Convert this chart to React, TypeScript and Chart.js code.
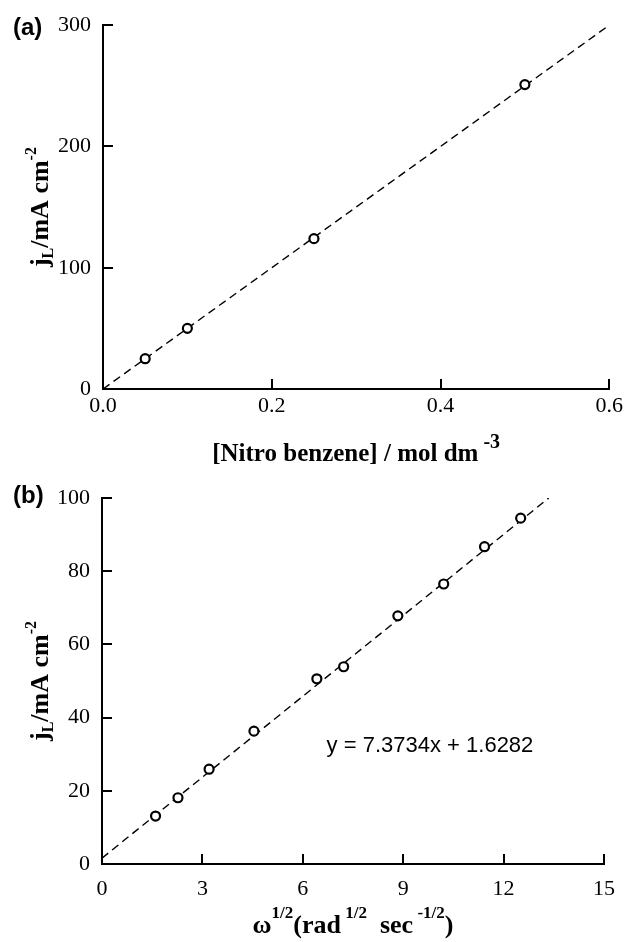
import React, { useEffect, useRef } from 'react';
import { Chart, registerables } from 'chart.js';

Chart.register(...registerables);

// ---------- data ----------
const concA = [0.05, 0.1, 0.25, 0.5];
const currentA = [25, 50, 124, 251];
const fitAX = [0, 0.6];
const fitAY = [0, 300];

const omegaB = [1.6, 2.27, 3.2, 4.54, 6.42, 7.22, 8.84, 10.21, 11.43, 12.51];
const currentB = [13.1, 18.1, 25.9, 36.3, 50.6, 53.9, 67.8, 76.5, 86.7, 94.5];
const fitBX = [0, 13.35];
const fitBY = [1.6, 100];

const equationB = 'y = 7.3734x + 1.6282';
const equationPos = { x: 9.8, y: 32.2 };

const panelLabels = ['(a)', '(b)'];

const SERIF = '"Liberation Serif", "Times New Roman", serif';
const SANS = '"Liberation Sans", Arial, sans-serif';

type Seg = { t: string; size: number; dy: number };

function drawRich(ctx: CanvasRenderingContext2D, segs: Seg[], x: number, y: number) {
  const widths: number[] = [];
  let total = 0;
  for (const s of segs) {
    ctx.font = `bold ${s.size}px ${SERIF}`;
    const w = ctx.measureText(s.t).width;
    widths.push(w);
    total += w;
  }
  let cx = x - total / 2;
  ctx.textAlign = 'left';
  ctx.textBaseline = 'alphabetic';
  segs.forEach((s, i) => {
    ctx.font = `bold ${s.size}px ${SERIF}`;
    ctx.fillText(s.t, cx, y + s.dy);
    cx += widths[i];
  });
}

const yTitleSegs: Seg[] = [
  { t: 'j', size: 26, dy: 0 },
  { t: 'L', size: 16, dy: 5 },
  { t: '/mA cm', size: 26, dy: 0 },
  { t: '-2', size: 16, dy: -12 },
];

const xTitleA: Seg[] = [
  { t: '[Nitro benzene] / mol dm', size: 25, dy: 0 },
  { t: ' -3', size: 20, dy: -13 },
];

const xTitleB: Seg[] = [
  { t: '\u03c9', size: 26, dy: 0 },
  { t: '1/2', size: 17, dy: -15 },
  { t: '(rad', size: 26, dy: 0 },
  { t: ' 1/2', size: 17, dy: -15 },
  { t: '  sec', size: 26, dy: 0 },
  { t: ' -1/2', size: 17, dy: -15 },
  { t: ')', size: 26, dy: 0 },
];

type PanelSpec = {
  height: number;
  padTop: number;
  padRight: number;
  yWidth: number;
  xHeight: number;
  xMin: number; xMax: number; xStep: number; xDigits: number;
  yMin: number; yMax: number; yStep: number;
  xPad: number;
  pts: { x: number; y: number }[];
  fit: { x: number; y: number }[];
  label: string;
  labelBaseline: number;
  xTitle: Seg[];
  xTitleBaseline: number;
  equation?: string;
};

function makeConfig(p: PanelSpec): any {
  const annot = {
    id: 'annot',
    afterDraw(chart: any) {
      const { ctx, chartArea } = chart;
      const xs = chart.scales.x;
      const ys = chart.scales.y;
      ctx.save();
      ctx.strokeStyle = '#000';
      ctx.fillStyle = '#000';
      ctx.lineWidth = 2;
      ctx.beginPath();
      xs.ticks.forEach((t: any) => {
        if (Math.abs(t.value - xs.min) < 1e-9) return;
        const px = Math.round(xs.getPixelForValue(t.value));
        ctx.moveTo(px, chartArea.bottom);
        ctx.lineTo(px, chartArea.bottom - 10);
      });
      ys.ticks.forEach((t: any) => {
        if (Math.abs(t.value - ys.min) < 1e-9) return;
        const py = Math.round(ys.getPixelForValue(t.value));
        ctx.moveTo(chartArea.left, py);
        ctx.lineTo(chartArea.left + 10, py);
      });
      ctx.stroke();

      // panel label
      ctx.font = `bold 24px ${SANS}`;
      ctx.textAlign = 'left';
      ctx.textBaseline = 'alphabetic';
      ctx.fillText(p.label, 13, p.labelBaseline);

      // y title (rotated)
      ctx.save();
      ctx.translate(48, (chartArea.top + chartArea.bottom) / 2);
      ctx.rotate(-Math.PI / 2);
      drawRich(ctx, yTitleSegs, 0, 0);
      ctx.restore();

      // x title
      drawRich(ctx, p.xTitle, (chartArea.left + chartArea.right) / 2, p.xTitleBaseline);

      if (p.equation) {
        ctx.font = `22px ${SANS}`;
        ctx.textAlign = 'center';
        ctx.textBaseline = 'middle';
        ctx.fillText(p.equation, xs.getPixelForValue(equationPos.x), ys.getPixelForValue(equationPos.y));
      }
      ctx.restore();
    },
  };

  const tickFont = { family: SERIF, size: 22 };
  return {
    type: 'scatter',
    data: {
      datasets: [
        {
          label: 'measured',
          data: p.pts,
          showLine: false,
          pointStyle: 'circle',
          pointRadius: 4.5,
          pointBorderWidth: 2.2,
          borderColor: '#000',
          backgroundColor: '#fff',
        },
        {
          label: 'fit',
          data: p.fit,
          showLine: true,
          borderDash: [8, 5],
          borderWidth: 1.4,
          borderColor: '#000',
          backgroundColor: '#000',
          pointRadius: 0,
          fill: false,
        },
      ],
    },
    options: {
      animation: false,
      responsive: false,
      devicePixelRatio: 1,
      layout: { padding: { top: p.padTop, right: p.padRight, left: 0, bottom: 0 } },
      plugins: { legend: { display: false }, tooltip: { enabled: false } },
      scales: {
        x: {
          type: 'linear',
          min: p.xMin,
          max: p.xMax,
          ticks: {
            stepSize: p.xStep,
            callback: (v: number) => Number(v).toFixed(p.xDigits),
            font: tickFont,
            color: '#000',
            padding: p.xPad,
            maxRotation: 0,
            autoSkip: false,
          },
          grid: { drawOnChartArea: false, drawTicks: false },
          border: { display: true, color: '#000', width: 2 },
          afterFit: (s: any) => { s.height = p.xHeight; },
        },
        y: {
          type: 'linear',
          min: p.yMin,
          max: p.yMax,
          ticks: {
            stepSize: p.yStep,
            callback: (v: number) => String(Math.round(Number(v))),
            font: tickFont,
            color: '#000',
            padding: 12,
            autoSkip: false,
          },
          grid: { drawOnChartArea: false, drawTicks: false },
          border: { display: true, color: '#000', width: 2 },
          afterFit: (s: any) => { s.width = p.yWidth; },
        },
      },
    },
    plugins: [annot],
  };
}

const specA: PanelSpec = {
  height: 470,
  padTop: 25,
  padRight: 17,
  yWidth: 103,
  xHeight: 81,
  xMin: 0, xMax: 0.6, xStep: 0.2, xDigits: 1,
  yMin: 0, yMax: 300, yStep: 100,
  xPad: 4,
  pts: concA.map((x, i) => ({ x, y: currentA[i] })),
  fit: fitAX.map((x, i) => ({ x, y: fitAY[i] })),
  label: panelLabels[0],
  labelBaseline: 35,
  xTitle: xTitleA,
  xTitleBaseline: 461,
};

const specB: PanelSpec = {
  height: 472,
  padTop: 28,
  padRight: 18,
  yWidth: 102,
  xHeight: 78,
  xMin: 0, xMax: 15, xStep: 3, xDigits: 0,
  yMin: 0, yMax: 100, yStep: 20,
  xPad: 12,
  pts: omegaB.map((x, i) => ({ x, y: currentB[i] })),
  fit: fitBX.map((x, i) => ({ x, y: fitBY[i] })),
  label: panelLabels[1],
  labelBaseline: 33,
  xTitle: xTitleB,
  xTitleBaseline: 463,
  equation: equationB,
};

function Panel({ spec, top }: { spec: PanelSpec; top: number }) {
  const ref = useRef<HTMLCanvasElement>(null);
  useEffect(() => {
    const chart = new Chart(ref.current as HTMLCanvasElement, makeConfig(spec));
    return () => chart.destroy();
  }, []);
  return (
    <canvas
      ref={ref}
      width={627}
      height={spec.height}
      style={{ position: 'absolute', left: 0, top, width: 627, height: spec.height, display: 'block' }}
    />
  );
}

export default function App() {
  return (
    <div style={{ position: 'absolute', left: 0, top: 0, width: 627, height: 942, background: '#fff' }}>
      <Panel spec={specA} top={0} />
      <Panel spec={specB} top={470} />
    </div>
  );
}
